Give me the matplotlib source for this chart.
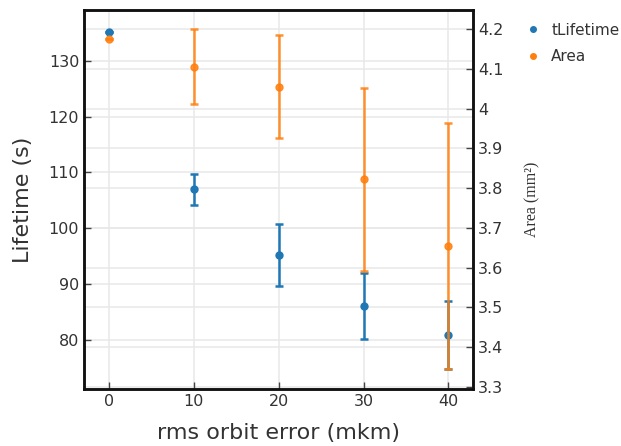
import matplotlib
matplotlib.use("Agg")
import matplotlib.pyplot as plt
from matplotlib.lines import Line2D
from matplotlib.transforms import blended_transform_factory

# data
rms_error = [0, 10, 20, 30, 40]
lifetime = [135.1, 107.0, 95.2, 86.1, 80.9]
lifetime_err = [0.0, 2.8, 5.6, 5.9, 6.1]
area = [4.175, 4.106, 4.056, 3.822, 3.655]
area_err = [0.0, 0.094, 0.13, 0.23, 0.31]

lifetime_ticks = [80, 90, 100, 110, 120, 130]
area_ticks = [3.3, 3.4, 3.5, 3.6, 3.7, 3.8, 3.9, 4.0, 4.1, 4.2]
area_ticklabels = ["3.3", "3.4", "3.5", "3.6", "3.7", "3.8", "3.9", "4", "4.1", "4.2"]

blue = "#1f77b4"
orange = "#ff7f0e"
grid_c = "#e8e8e8"
text_c = "#333333"

fig = plt.figure(figsize=(6.21, 4.46), dpi=100, facecolor="w")
ax = fig.add_axes([0.1353, 0.1278, 0.6264, 0.8498])
ax2 = ax.twinx()

ax.set_xlim(-2.95, 42.9)
ax.set_ylim(71.2, 139.1)
ax2.set_ylim(3.294, 4.249)

# grid of the right axis drawn on the left axes so it stays under the blue points
ax.set_axisbelow(True)
ax.grid(True, color=grid_c, lw=1.1)
ax.hlines(area_ticks, 0, 1, color=grid_c, lw=1.1, zorder=0.5,
          transform=blended_transform_factory(ax.transAxes, ax2.transData))

ax.errorbar(rms_error, lifetime, yerr=lifetime_err, fmt="o", color=blue,
            ms=5, elinewidth=1.8, capsize=2.6, capthick=1.8, zorder=3)
ax2.errorbar(rms_error, area, yerr=area_err, fmt="o", color=orange,
             ms=5, elinewidth=1.8, capsize=2.6, capthick=1.8, alpha=0.85, zorder=3)

ax.set_xticks(rms_error)
ax.set_yticks(lifetime_ticks)
ax2.set_yticks(area_ticks)
ax2.set_yticklabels(area_ticklabels)

for a in (ax, ax2):
    a.tick_params(direction="in", length=5, width=1, colors="#444444",
                  labelcolor=text_c, labelsize=11.5)
    for s in a.spines.values():
        s.set_linewidth(1.8)
        s.set_color("#111111")

ax.set_xlabel("rms orbit error (mkm)", fontsize=16, color=text_c, labelpad=10)
ax.set_ylabel("Lifetime (s)", fontsize=16, color=text_c, labelpad=11)
ax2.set_ylabel("Area (mm²)", fontsize=11.5, family="Liberation Serif",
               color=text_c, labelpad=15)

handles = [Line2D([], [], ls="", marker="o", ms=4, color=blue),
           Line2D([], [], ls="", marker="o", ms=4, color=orange)]
fig.legend(handles, ["tLifetime", "Area"], loc="upper left",
           bbox_to_anchor=(0.826, 0.98), frameon=False, fontsize=11,
           handlelength=0.8, handletextpad=0.8, labelspacing=0.75,
           labelcolor=text_c)

fig.savefig("out.png", dpi=100)
